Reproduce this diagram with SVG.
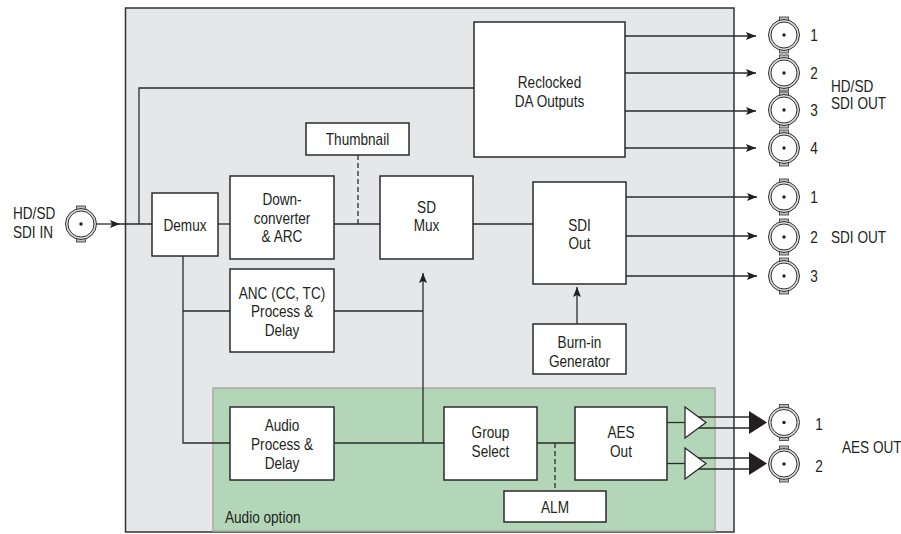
<svg xmlns="http://www.w3.org/2000/svg" width="901" height="534" viewBox="0 0 901 534">
<style>
.t{font-family:"Liberation Sans",Arial,sans-serif;font-size:16px;fill:#231f20;text-anchor:middle}
.ts{font-family:"Liberation Sans",Arial,sans-serif;font-size:16px;fill:#231f20;text-anchor:start}
.box{fill:#fff;stroke:#2b2b2b;stroke-width:1.5}
.ln{fill:none;stroke:#2b2b2b;stroke-width:1.3}
.dash{fill:none;stroke:#2b2b2b;stroke-width:1.3;stroke-dasharray:5 3}
.arr{fill:none;stroke:#2b2b2b;stroke-width:1.3;marker-end:url(#ah)}
</style>
<defs>
<marker id="ah" markerUnits="userSpaceOnUse" markerWidth="10" markerHeight="8" refX="10" refY="4" orient="auto">
<path d="M0,0 L10,4 L0,8 L2,4 Z" fill="#231f20"/>
</marker>
<g id="bnc">
<rect x="-4.5" y="-18" width="9" height="4" fill="#bdbdbd" stroke="#333" stroke-width="0.8"/>
<rect x="-4.5" y="14" width="9" height="4" fill="#bdbdbd" stroke="#333" stroke-width="0.8"/>
<circle r="15.5" fill="#d9d9d9" stroke="#333" stroke-width="1"/>
<circle r="13" fill="#fff" stroke="#333" stroke-width="1"/>
<circle r="1.7" fill="#231f20"/>
</g>
</defs>
<rect x="0" y="0" width="901" height="534" fill="#fff"/>
<g id="chassis">
<rect x="125.5" y="8" width="608.5" height="524" fill="#e6e7e8" stroke="#333" stroke-width="1.5"/>
</g>
<g id="audio-option">
<rect x="213" y="388" width="502" height="143" fill="#b3d6b9" stroke="#a9abaa" stroke-width="1.5"/>
<text class="ts" transform="translate(225,522.5) scale(.85 1)">Audio option</text>
</g>
<g id="connectors">
<path class="arr" d="M97,224 H120"/>
<path class="ln" d="M119,224 H152"/>
<path class="ln" d="M139,224 V88 H474"/>
<path class="ln" d="M218,224 H230"/>
<path class="ln" d="M334,224 H380"/>
<path class="dash" d="M358,155 V224"/>
<path class="ln" d="M473,224 H533"/>
<path class="arr" d="M625,36 H756"/>
<path class="arr" d="M625,73 H756"/>
<path class="arr" d="M625,111 H756"/>
<path class="arr" d="M625,148 H756"/>
<path class="arr" d="M626,197 H757"/>
<path class="arr" d="M626,236 H757"/>
<path class="arr" d="M626,276 H757"/>
<path class="ln" d="M183,256 V443 H230"/>
<path class="ln" d="M183,311 H230"/>
<path class="ln" d="M334,311 H423"/>
<path class="ln" d="M334,443 H444"/>
<path class="arr" d="M423,443 V273"/>
<path class="arr" d="M577,324 V287"/>
<path class="ln" d="M537,443 H575"/>
<path class="dash" d="M555,443 V491"/>
<path class="ln" d="M667,422.5 H686"/>
<path class="ln" d="M667,463.5 H686"/>
<path class="ln" d="M692,417 H752 M692,428 H752"/>
<path class="ln" d="M692,458 H752 M692,469 H752"/>
<polygon points="749,411 767,422.5 749,434" fill="#231f20"/>
<polygon points="749,452 767,463.5 749,475" fill="#231f20"/>
<polygon points="685,407 706,422.5 685,438" fill="#fff" stroke="#2b2b2b" stroke-width="1.3"/>
<polygon points="685,448 706,463.5 685,479" fill="#fff" stroke="#2b2b2b" stroke-width="1.3"/>
</g>
<g id="sdi-in">
<use href="#bnc" x="81" y="224"/>
<text class="ts" transform="translate(13,218.5) scale(.85 1)">HD/SD</text>
<text class="ts" transform="translate(13,238) scale(.85 1)">SDI IN</text>
</g>
<g id="demux">
<rect class="box" x="152" y="193" width="66" height="63"/>
<text class="t" transform="translate(185,231) scale(.85 1)">Demux</text>
</g>
<g id="downconverter">
<rect class="box" x="230" y="176" width="104" height="83"/>
<text class="t" transform="translate(282,204.5) scale(.85 1)">Down-</text>
<text class="t" transform="translate(282,223.5) scale(.85 1)">converter</text>
<text class="t" transform="translate(282,242) scale(.85 1)">&amp; ARC</text>
</g>
<g id="thumbnail">
<rect class="box" x="306" y="123" width="103" height="32"/>
<text class="t" transform="translate(357.5,144.5) scale(.85 1)">Thumbnail</text>
</g>
<g id="sd-mux">
<rect class="box" x="380" y="176" width="93" height="83"/>
<text class="t" transform="translate(426.5,212.5) scale(.85 1)">SD</text>
<text class="t" transform="translate(426.5,231) scale(.85 1)">Mux</text>
</g>
<g id="anc">
<rect class="box" x="230" y="269" width="104" height="83"/>
<text class="t" transform="translate(282,298.5) scale(.85 1)">ANC (CC, TC)</text>
<text class="t" transform="translate(282,317) scale(.85 1)">Process &amp;</text>
<text class="t" transform="translate(282,335.5) scale(.85 1)">Delay</text>
</g>
<g id="reclocked">
<rect class="box" x="474" y="22" width="151" height="135"/>
<text class="t" transform="translate(549.5,87.5) scale(.85 1)">Reclocked</text>
<text class="t" transform="translate(549.5,106.5) scale(.85 1)">DA Outputs</text>
</g>
<g id="sdi-out">
<rect class="box" x="533" y="182" width="93" height="102"/>
<text class="t" transform="translate(579.5,230.5) scale(.85 1)">SDI</text>
<text class="t" transform="translate(579.5,249) scale(.85 1)">Out</text>
</g>
<g id="burn-in">
<rect class="box" x="533" y="324" width="93" height="50"/>
<text class="t" transform="translate(579.5,347.5) scale(.85 1)">Burn-in</text>
<text class="t" transform="translate(579.5,366.5) scale(.85 1)">Generator</text>
</g>
<g id="audio-process">
<rect class="box" x="230" y="407" width="104" height="73"/>
<text class="t" transform="translate(282,430.5) scale(.85 1)">Audio</text>
<text class="t" transform="translate(282,449.5) scale(.85 1)">Process &amp;</text>
<text class="t" transform="translate(282,468.5) scale(.85 1)">Delay</text>
</g>
<g id="group-select">
<rect class="box" x="444" y="407" width="93" height="73"/>
<text class="t" transform="translate(490.5,437.5) scale(.85 1)">Group</text>
<text class="t" transform="translate(490.5,456.5) scale(.85 1)">Select</text>
</g>
<g id="aes-out">
<rect class="box" x="575" y="407" width="92" height="73"/>
<text class="t" transform="translate(621,437.5) scale(.85 1)">AES</text>
<text class="t" transform="translate(621,456.5) scale(.85 1)">Out</text>
</g>
<g id="alm">
<rect class="box" x="504" y="491" width="102" height="31"/>
<text class="t" transform="translate(555,512.5) scale(.85 1)">ALM</text>
</g>
<g id="hdsd-sdi-out">
<use href="#bnc" x="784" y="35"/>
<use href="#bnc" x="784" y="73"/>
<use href="#bnc" x="784" y="110"/>
<use href="#bnc" x="784" y="148"/>
<text class="t" transform="translate(814,40.5) scale(.85 1)">1</text>
<text class="t" transform="translate(814,78.5) scale(.85 1)">2</text>
<text class="t" transform="translate(814,116) scale(.85 1)">3</text>
<text class="t" transform="translate(814,154) scale(.85 1)">4</text>
<text class="ts" transform="translate(831,91.5) scale(.85 1)">HD/SD</text>
<text class="ts" transform="translate(831,109) scale(.85 1)">SDI OUT</text>
</g>
<g id="sdi-out-connectors">
<use href="#bnc" x="784" y="197"/>
<use href="#bnc" x="784" y="237"/>
<use href="#bnc" x="784" y="276"/>
<text class="t" transform="translate(814,203) scale(.85 1)">1</text>
<text class="t" transform="translate(814,243) scale(.85 1)">2</text>
<text class="t" transform="translate(814,282) scale(.85 1)">3</text>
<text class="ts" transform="translate(831,243) scale(.85 1)">SDI OUT</text>
</g>
<g id="aes-out-connectors">
<use href="#bnc" x="784" y="422.5"/>
<use href="#bnc" x="784" y="464"/>
<text class="t" transform="translate(819,430) scale(.85 1)">1</text>
<text class="t" transform="translate(819,471.5) scale(.85 1)">2</text>
<text class="ts" transform="translate(842,453) scale(.85 1)">AES OUT</text>
</g>
</svg>
